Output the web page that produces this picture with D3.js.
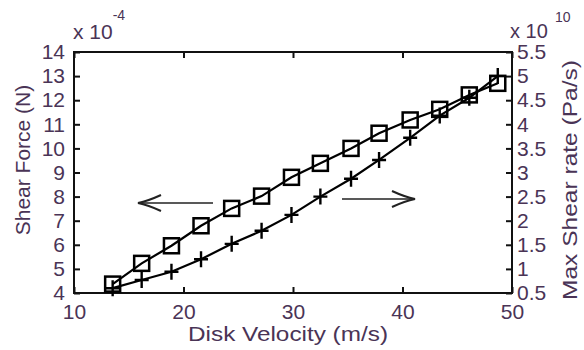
<!DOCTYPE html>
<html>
<head>
<meta charset="utf-8">
<script src="https://cdn.jsdelivr.net/npm/d3@7"></script>
<style>
  body { margin: 0; background: #fff; }
  svg text { font-family: "Liberation Sans", Arial, sans-serif; fill: #4a3456; }
</style>
</head>
<body>
<svg id="chart" width="584" height="350"></svg>
<script>
// disk velocity (m/s)
var velocity = [13.53, 16.18, 18.9, 21.6, 24.4, 27.13, 29.86, 32.5, 35.3, 37.86, 40.7, 43.4, 46.1, 48.7];
// shear force, x 10^-4 N (left axis)
var shearForce = [4.37, 5.23, 5.96, 6.79, 7.51, 8.02, 8.80, 9.38, 10.0, 10.63, 11.18, 11.62, 12.22, 12.70];
// max shear rate, x 10^10 Pa/s (right axis)
var shearRate = [0.60, 0.77, 0.94, 1.20, 1.52, 1.79, 2.12, 2.50, 2.87, 3.26, 3.72, 4.18, 4.55, 5.0];

var xTicks = [10, 20, 30, 40, 50];
var leftTicks = [4, 5, 6, 7, 8, 9, 10, 11, 12, 13, 14];
var rightTicks = [0.5, 1, 1.5, 2, 2.5, 3, 3.5, 4, 4.5, 5, 5.5];

var svg = d3.select("#chart"),
  margin = { top: 52, right: 72, bottom: 57, left: 74 },
  width = +svg.attr("width") - margin.left - margin.right,
  height = +svg.attr("height") - margin.top - margin.bottom;

var xScale = d3.scaleLinear().domain([10, 50]).range([0, width]),
  yLeft = d3.scaleLinear().domain([4, 14]).range([height, 0]),
  yRight = d3.scaleLinear().domain([0.5, 5.5]).range([height, 0]);

var g = svg.append("g")
  .attr("transform", "translate(" + margin.left + "," + margin.top + ")");

function styleAxis(sel) {
  sel.select(".domain").remove();
  sel.selectAll(".tick line").attr("stroke", "#111").attr("stroke-width", 2);
  sel.selectAll(".tick text").style("font-size", "21px");
}

// bottom + top x ticks (inward)
g.append("g")
  .attr("transform", "translate(0," + height + ")")
  .call(d3.axisBottom(xScale).tickValues(xTicks).tickSize(-6).tickPadding(11).tickFormat(d3.format("d")))
  .call(styleAxis);
g.append("g")
  .call(d3.axisTop(xScale).tickValues(xTicks).tickSize(-6).tickFormat(""))
  .call(styleAxis);

g.append("g")
  .call(d3.axisLeft(yLeft).tickValues(leftTicks).tickSize(-6).tickPadding(9).tickFormat(d3.format("d")))
  .call(styleAxis);
g.append("g")
  .attr("transform", "translate(" + width + ",0)")
  .call(d3.axisRight(yRight).tickValues(rightTicks).tickSize(-6).tickPadding(5).tickFormat(d3.format("~")))
  .call(styleAxis);

g.append("rect")
  .attr("width", width).attr("height", height)
  .attr("fill", "none").attr("stroke", "#111").attr("stroke-width", 2);

// series
var lineLeft = d3.line()
  .x(function (d, i) { return xScale(velocity[i]); })
  .y(function (d) { return yLeft(d); });
var lineRight = d3.line()
  .x(function (d, i) { return xScale(velocity[i]); })
  .y(function (d) { return yRight(d); });

g.append("path").datum(shearRate)
  .attr("d", lineRight).attr("fill", "none").attr("stroke", "#000").attr("stroke-width", 2.2);
g.append("path").datum(shearForce)
  .attr("d", lineLeft).attr("fill", "none").attr("stroke", "#000").attr("stroke-width", 2.2);

g.selectAll(".sq")
  .data(shearForce)
  .enter().append("rect")
  .attr("class", "sq")
  .attr("x", function (d, i) { return xScale(velocity[i]) - 7.5; })
  .attr("y", function (d) { return yLeft(d) - 7.5; })
  .attr("width", 15).attr("height", 15)
  .attr("fill", "none").attr("stroke", "#000").attr("stroke-width", 2.5);

g.selectAll(".plus")
  .data(shearRate)
  .enter().append("path")
  .attr("class", "plus")
  .attr("d", function (d, i) {
    var cx = xScale(velocity[i]), cy = yRight(d);
    return "M" + (cx - 7) + "," + cy + "H" + (cx + 7) + "M" + cx + "," + (cy - 8) + "V" + (cy + 8);
  })
  .attr("stroke", "#000").attr("stroke-width", 2.4);

// arrows
function arrow(x1, x2, y) {
  var dir = x2 > x1 ? -1 : 1;
  var a = svg.append("g").attr("stroke", "#222").attr("fill", "none");
  a.append("line").attr("x1", x1).attr("x2", x2).attr("y1", y).attr("y2", y).attr("stroke-width", 1.6);
  a.append("path")
    .attr("d", "M" + (x2 + dir * 23) + "," + (y - 8) + "Q" + (x2 + dir * 10) + "," + (y - 2) + " " + x2 + "," + y +
      "Q" + (x2 + dir * 10) + "," + (y + 2) + " " + (x2 + dir * 23) + "," + (y + 8))
    .attr("stroke-width", 2);
}
arrow(213, 138, 203);
arrow(342, 415, 199);

// labels
svg.append("text")
  .attr("transform", "translate(30,160) rotate(-90)")
  .attr("text-anchor", "middle")
  .style("font-size", "21px")
  .text("Shear Force (N)");
svg.append("text")
  .attr("transform", "translate(577,180) rotate(-90)")
  .attr("text-anchor", "middle")
  .attr("textLength", 240).attr("lengthAdjust", "spacingAndGlyphs")
  .style("font-size", "21px")
  .text("Max Shear rate (Pa/s)");
svg.append("text")
  .attr("x", 288).attr("y", 341)
  .attr("text-anchor", "middle")
  .attr("textLength", 200).attr("lengthAdjust", "spacingAndGlyphs")
  .style("font-size", "20px")
  .text("Disk Velocity (m/s)");

var expL = svg.append("text").attr("x", 73).attr("y", 39).style("font-size", "21px");
expL.append("tspan").text("x 10");
expL.append("tspan").attr("dy", -19).style("font-size", "14px").text("-4");

var expR = svg.append("text").attr("x", 510).attr("y", 38).style("font-size", "20px");
expR.append("tspan").text("x 10");
expR.append("tspan").attr("x", 555).attr("dy", -16).style("font-size", "14px").text("10");
</script>
</body>
</html>
